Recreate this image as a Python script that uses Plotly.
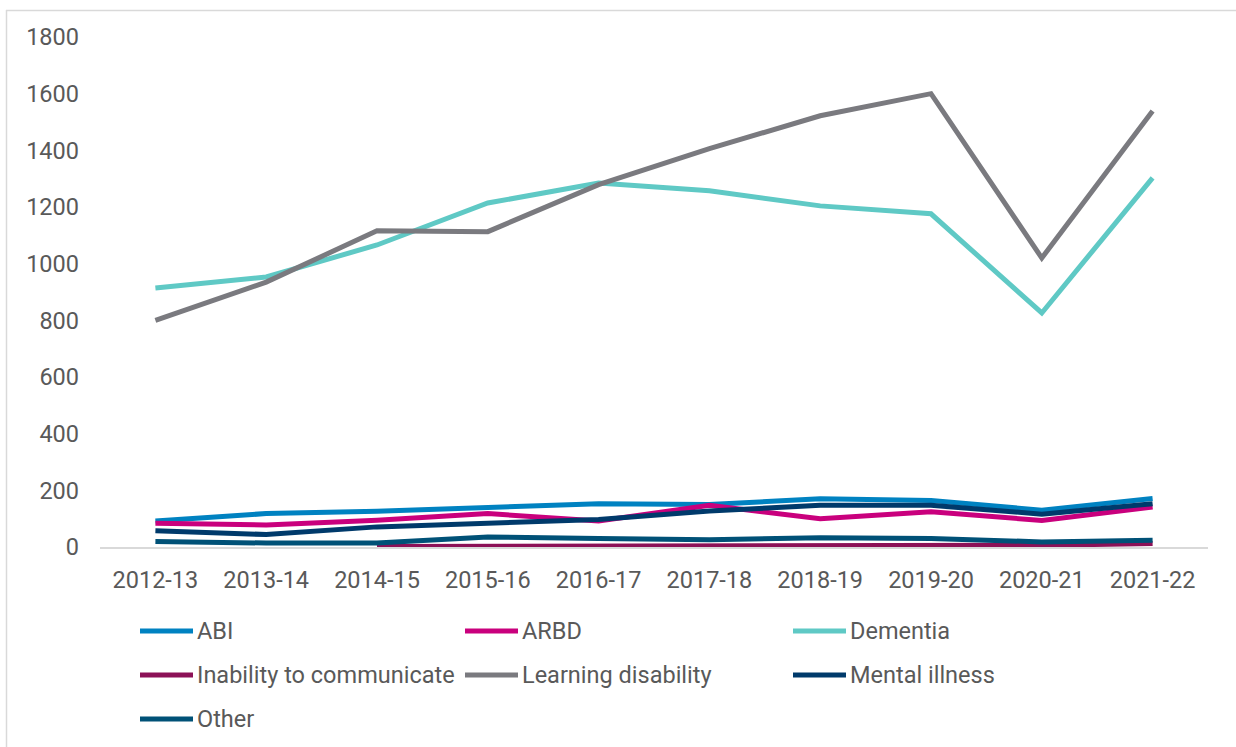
import plotly.graph_objects as go

# Financial years
years = ["2012-13", "2013-14", "2014-15", "2015-16", "2016-17",
         "2017-18", "2018-19", "2019-20", "2020-21", "2021-22"]

# Counts by primary condition
abi = [92, 118, 126, 140, 153, 150, 170, 164, 130, 171]
arbd = [84, 78, 94, 118, 92, 147, 100, 124, 94, 141]
dementia = [914, 953, 1066, 1214, 1285, 1257, 1204, 1176, 826, 1303]
inability = [None, None, 2, 2, 3, 5, 3, 4, 6, 12]
learning_disability = [800, 935, 1116, 1113, 1279, 1406, 1522, 1600, 1020, 1539]
mental_illness = [57, 44, 71, 85, 97, 127, 147, 147, 116, 153]
other = [19, 14, 14, 35, 30, 26, 33, 30, 18, 24]

series_names = ["ABI", "ARBD", "Dementia", "Inability to communicate",
                "Learning disability", "Mental illness", "Other"]
series_values = [abi, arbd, dementia, inability, learning_disability,
                 mental_illness, other]
series_colors = ["#0082C1", "#C9007D", "#5FC9C5", "#8C1157",
                 "#7A7A7F", "#003A6B", "#005177"]

FONT = "Roboto, 'Open Sans', sans-serif"
TEXT_COLOR = "#595959"

W, H = 1236, 747
ML, MR, MT, MB = 100, 28, 37, 200
PW, PH = W - ML - MR, H - MT - MB


def px_x(x):
    return (x - ML) / PW


def px_y(y):
    return (H - MB - y) / PH


fig = go.Figure()
for name, vals, col in zip(series_names, series_values, series_colors):
    fig.add_trace(go.Scatter(
        x=years, y=vals, name=name, mode="lines",
        line=dict(color=col, width=5),
        showlegend=False,
    ))

shapes = []
annotations = []

# Legend laid out in three columns
col_x = [140, 465, 793]
row_y = [631, 675, 719]
for i, (name, col) in enumerate(zip(series_names, series_colors)):
    cx = col_x[i % 3]
    cy = row_y[i // 3]
    shapes.append(dict(type="line", xref="paper", yref="paper",
                       x0=px_x(cx), x1=px_x(cx + 53), y0=px_y(cy), y1=px_y(cy),
                       line=dict(color=col, width=5)))
    annotations.append(dict(xref="paper", yref="paper", x=px_x(cx + 55), y=px_y(cy),
                            text=name, showarrow=False, xanchor="left", yanchor="middle",
                            font=dict(family=FONT, size=23.5, color=TEXT_COLOR)))

# Chart area border (top and left edges)
shapes.append(dict(type="line", xref="paper", yref="paper",
                   x0=px_x(6), x1=px_x(W + 5), y0=px_y(10.5), y1=px_y(10.5),
                   line=dict(color="#D9D9D9", width=1.5)))
shapes.append(dict(type="line", xref="paper", yref="paper",
                   x0=px_x(6.5), x1=px_x(6.5), y0=px_y(10), y1=px_y(H + 5),
                   line=dict(color="#D9D9D9", width=1.5)))

fig.update_layout(
    width=W, height=H,
    margin=dict(l=ML, r=MR, t=MT, b=MB),
    paper_bgcolor="white", plot_bgcolor="white",
    font=dict(family=FONT, size=23, color=TEXT_COLOR),
    shapes=shapes, annotations=annotations,
    showlegend=False,
    xaxis=dict(type="category", range=[-0.5, 9.5], showgrid=False, zeroline=False,
               showline=True, linecolor="#D9D9D9", linewidth=1.5, ticks="",
               tickfont=dict(family=FONT, size=23.5, color=TEXT_COLOR),
               ticklabelstandoff=11),
    yaxis=dict(range=[0, 1800], dtick=200, showgrid=False, zeroline=False,
               showline=False, ticks="",
               tickfont=dict(family=FONT, size=23.5, color=TEXT_COLOR),
               ticklabelstandoff=20),
)

fig.write_html("out.html")
